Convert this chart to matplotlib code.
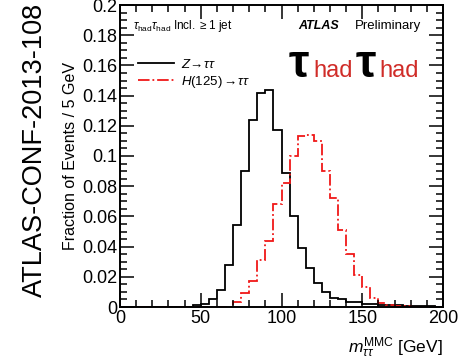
import numpy as np
import matplotlib
matplotlib.use('Agg')
import matplotlib.pyplot as plt
from matplotlib.ticker import MultipleLocator, FuncFormatter

plt.rcParams['font.family'] = ['Liberation Sans', 'DejaVu Sans']
plt.rcParams['mathtext.fontset'] = 'custom'
plt.rcParams['mathtext.rm'] = 'Liberation Sans'
plt.rcParams['mathtext.it'] = 'Liberation Sans:italic'

# 5 GeV bins from 0 to 200
bin_edges = np.arange(0, 205, 5)

z_tautau = [0, 0, 0, 0, 0, 0, 0, 0, 0, 0.001,
            0.002, 0.005, 0.011, 0.028, 0.054, 0.090, 0.124, 0.142, 0.144, 0.117,
            0.089, 0.060, 0.039, 0.026, 0.016, 0.010, 0.006, 0.005, 0.0035, 0.003,
            0.002, 0.0018, 0.0015, 0.0013, 0.001, 0.0008, 0.0007, 0.0006, 0.0004, 0.0002]

h_tautau = [0, 0, 0, 0, 0, 0, 0, 0, 0, 0,
            0, 0, 0, 0.0003, 0.003, 0.009, 0.017, 0.031, 0.044, 0.068,
            0.082, 0.100, 0.113, 0.114, 0.110, 0.090, 0.072, 0.051, 0.035, 0.021,
            0.013, 0.006, 0.0025, 0.0013, 0.0009, 0.0005, 0.0003, 0.0002, 0.0001, 0]

fig = plt.figure(figsize=(4.61, 3.61), dpi=100)
ax = fig.add_axes([120/461, 1 - 307/361, 323/461, 302/361])

ax.stairs(z_tautau, bin_edges, color='black', lw=1.3, label=r'$Z\!\rightarrow\!\tau\tau$')
ax.stairs(h_tautau, bin_edges, color='#f01818', lw=1.3, linestyle='-.',
          label=r'$H$(125)$\rightarrow\!\tau\tau$')

ax.set_xlim(0, 200)
ax.set_ylim(0, 0.2)
ax.xaxis.set_major_locator(MultipleLocator(50))
ax.xaxis.set_minor_locator(MultipleLocator(10))
ax.yaxis.set_major_locator(MultipleLocator(0.02))
ax.yaxis.set_minor_locator(MultipleLocator(0.005))
ax.yaxis.set_major_formatter(FuncFormatter(lambda v, p: '%g' % round(v, 3)))
ax.tick_params(which='both', direction='in', top=True, right=True, width=1.1,
               labelsize=13, pad=2)
ax.tick_params(which='major', length=10)
ax.tick_params(which='minor', length=5)
for s in ax.spines.values():
    s.set_linewidth(1.4)

ax.set_ylabel('Fraction of Events / 5 GeV', fontsize=11.5, labelpad=3)
ax.set_xlabel(r'$m_{\tau\tau}^{\rm MMC}$ [GeV]', fontsize=12.5, loc='right', labelpad=6)

fig.text(35/461, 1 - 150/361, 'ATLAS-CONF-2013-108', rotation=90, fontsize=19.5,
         ha='center', va='center')

ax.text(0.04, 0.93, r'$\tau_{\rm had}\tau_{\rm had}$ Incl. $\geq$1 jet', transform=ax.transAxes,
        fontsize=8.5, va='center')
ax.text(0.552, 0.93, 'ATLAS', transform=ax.transAxes, fontsize=9, weight='bold',
        style='italic', va='center')
ax.text(0.728, 0.93, 'Preliminary', transform=ax.transAxes, fontsize=9.5, va='center')

ax.legend(loc='upper left', bbox_to_anchor=(0.02, 0.865), frameon=False, fontsize=9.5,
          handlelength=2.7, handletextpad=0.5, labelspacing=0.25)

# big tau_had tau_had label
ax.text(0.555, 0.762, 'τ', transform=ax.transAxes, fontsize=33, color='black',
        va='baseline', ha='center', weight='bold')
ax.text(0.598, 0.762, 'had', transform=ax.transAxes, fontsize=17, color='#d02c28',
        va='baseline')
ax.text(0.76, 0.762, 'τ', transform=ax.transAxes, fontsize=33, color='black',
        va='baseline', ha='center', weight='bold')
ax.text(0.803, 0.762, 'had', transform=ax.transAxes, fontsize=17, color='#d02c28',
        va='baseline')

fig.savefig('out.png', dpi=100)
